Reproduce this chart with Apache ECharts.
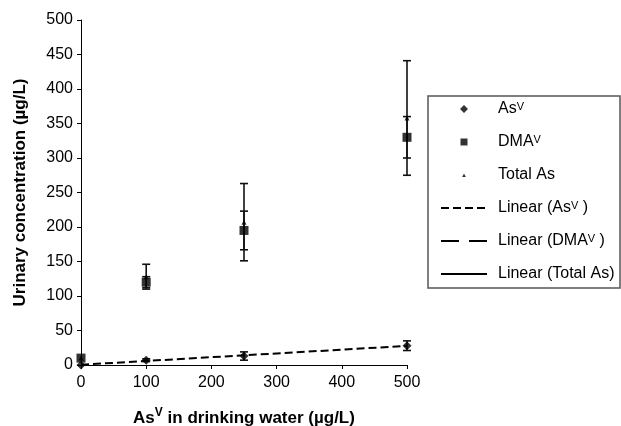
<!DOCTYPE html>
<html><head><meta charset="utf-8">
<script src="https://cdn.jsdelivr.net/npm/echarts@6/dist/echarts.min.js"></script>
<style>html,body{margin:0;padding:0;background:#fff}#c{width:621px;height:426px}</style>
</head><body><div id="c"></div>
<script>
// ---- data ----
const doses = [0, 100, 250, 500];
const asV = [0, 7, 13, 28];
const asVErr = [0, 2, 6, 7];
const dmaV = [10, 120, 195, 330];
const dmaErr = [0, 8, 28, 30];
const totalAs = [10, 128, 207, 358];
const totalErr = [0, 18, 56, 83];
const xTicks = [0, 100, 200, 300, 400, 500];
const yTicks = [0, 50, 100, 150, 200, 250, 300, 350, 400, 450, 500];
const names = ['AsV', 'DMAV', 'Total As', 'Linear (AsV)', 'Linear (DMAV)', 'Linear (Total As)'];
const labels = {
  'AsV': 'As{sup|V}',
  'DMAV': 'DMA{sup|V}',
  'Total As': 'Total As',
  'Linear (AsV)': 'Linear (As{sup|V} )',
  'Linear (DMAV)': 'Linear (DMA{sup|V} )',
  'Linear (Total As)': 'Linear (Total As)'
};

function linFit(xs, ys) {
  const n = xs.length;
  const mx = xs.reduce((a, b) => a + b, 0) / n;
  const my = ys.reduce((a, b) => a + b, 0) / n;
  let sxy = 0, sxx = 0;
  for (let i = 0; i < n; i++) { sxy += (xs[i] - mx) * (ys[i] - my); sxx += (xs[i] - mx) ** 2; }
  const b = sxy / sxx, a = my - b * mx;
  const x0 = xTicks[0], x1 = xTicks[xTicks.length - 1];
  return [[x0, a + b * x0], [x1, a + b * x1]];
}

const pts = (ys) => doses.map((d, i) => [d, ys[i]]);
const errPts = (ys, es) => doses.map((d, i) => [d, ys[i], es[i]]).filter(p => p[2] > 0);

function errRender(params, api) {
  const x = api.value(0), y = api.value(1), e = api.value(2);
  const t = api.coord([x, y + e]), b = api.coord([x, y - e]);
  const w = 4;
  const st = { stroke: '#111', lineWidth: 1.6 };
  return { type: 'group', children: [
    { type: 'line', shape: { x1: t[0], y1: t[1], x2: b[0], y2: b[1] }, style: st },
    { type: 'line', shape: { x1: t[0] - w, y1: t[1], x2: t[0] + w, y2: t[1] }, style: st },
    { type: 'line', shape: { x1: b[0] - w, y1: b[1], x2: b[0] + w, y2: b[1] }, style: st }
  ]};
}

const font = 'Liberation Sans, Arial, sans-serif';
const noDot = 'rgba(0,0,0,0)';
const chart = echarts.init(document.getElementById('c'), null, { renderer: 'canvas' });
chart.setOption({
  animation: false,
  backgroundColor: '#fff',
  grid: { left: 81, right: 214, top: 20, bottom: 61, containLabel: false, outerBoundsMode: 'none' },
  xAxis: {
    type: 'value', min: xTicks[0], max: xTicks[xTicks.length - 1], interval: 100,
    axisLine: { lineStyle: { color: '#000', width: 1 } },
    axisTick: { show: true, length: 4, lineStyle: { color: '#000' } },
    splitLine: { show: false },
    axisLabel: { color: '#000', fontSize: 16, fontFamily: font, margin: 10 },
    name: 'As{sup|V} in drinking water (µg/L)',
    nameLocation: 'middle', nameGap: 42,
    nameTextStyle: { color: '#000', fontSize: 17, fontWeight: 'bold', fontFamily: font, lineHeight: 22,
      rich: { sup: { fontSize: 12, fontWeight: 'bold', fontFamily: font, verticalAlign: 'top', lineHeight: 12 } } }
  },
  yAxis: {
    type: 'value', min: yTicks[0], max: yTicks[yTicks.length - 1], interval: 50,
    axisLine: { show: true, lineStyle: { color: '#000', width: 1 } },
    axisTick: { show: true, length: 4, lineStyle: { color: '#000' } },
    splitLine: { show: false },
    axisLabel: { color: '#000', fontSize: 16, fontFamily: font, margin: 8 },
    name: 'Urinary concentration (µg/L)',
    nameLocation: 'middle', nameGap: 52,
    nameTextStyle: { color: '#000', fontSize: 17, fontWeight: 'bold', fontFamily: font }
  },
  graphic: [{ type: 'rect', shape: { x: 428, y: 96, width: 192, height: 192 },
    style: { fill: 'none', stroke: '#555', lineWidth: 1.5 }, z: 0 }],
  legend: {
    orient: 'vertical', left: 440, top: 101, padding: 0,
    itemWidth: 46, itemHeight: 10, itemGap: 17,
    data: [
      { name: names[0], icon: 'path://M0,0M46,10M19,5L23,1L27,5L23,9Z' },
      { name: names[1], icon: 'path://M0,0M46,10M19.5,1.5H26.5V8.5H19.5Z' },
      { name: names[2], icon: 'path://M0,0M46,10M21.2,7L23,3.6L24.8,7Z' },
      { name: names[3] }, { name: names[4] }, { name: names[5] }
    ],
    formatter: (n) => labels[n],
    textStyle: { color: '#000', fontSize: 16, fontFamily: font, lineHeight: 16, padding: [0, 0, 0, 6],
      rich: { sup: { fontSize: 11, fontFamily: font, verticalAlign: 'top', lineHeight: 8 } } }
  },
  series: [
    { name: names[0], type: 'scatter', data: pts(asV), symbol: 'diamond', symbolSize: 9,
      itemStyle: { color: '#000' }, z: 5 },
    { name: names[1], type: 'scatter', data: pts(dmaV), symbol: 'rect', symbolSize: 9,
      itemStyle: { color: '#000' }, z: 5 },
    { name: names[2], type: 'scatter', data: pts(totalAs), symbol: 'triangle', symbolSize: 5,
      itemStyle: { color: '#000' }, z: 5 },
    { name: names[3], type: 'line', data: linFit(doses, asV), symbol: 'none',
      lineStyle: { color: '#000', width: 2, type: [8, 4] }, itemStyle: { color: noDot }, z: 3 },
    { name: names[4], type: 'line', data: [], symbol: 'none',
      lineStyle: { color: '#000', width: 2, type: [18, 10] }, itemStyle: { color: noDot } },
    { name: names[5], type: 'line', data: [], symbol: 'none',
      lineStyle: { color: '#000', width: 2, type: 'solid' }, itemStyle: { color: noDot } },
    { type: 'custom', renderItem: errRender, data: errPts(asV, asVErr), z: 4, silent: true },
    { type: 'custom', renderItem: errRender, data: errPts(dmaV, dmaErr), z: 4, silent: true },
    { type: 'custom', renderItem: errRender, data: errPts(totalAs, totalErr), z: 4, silent: true }
  ]
});
</script></body></html>
